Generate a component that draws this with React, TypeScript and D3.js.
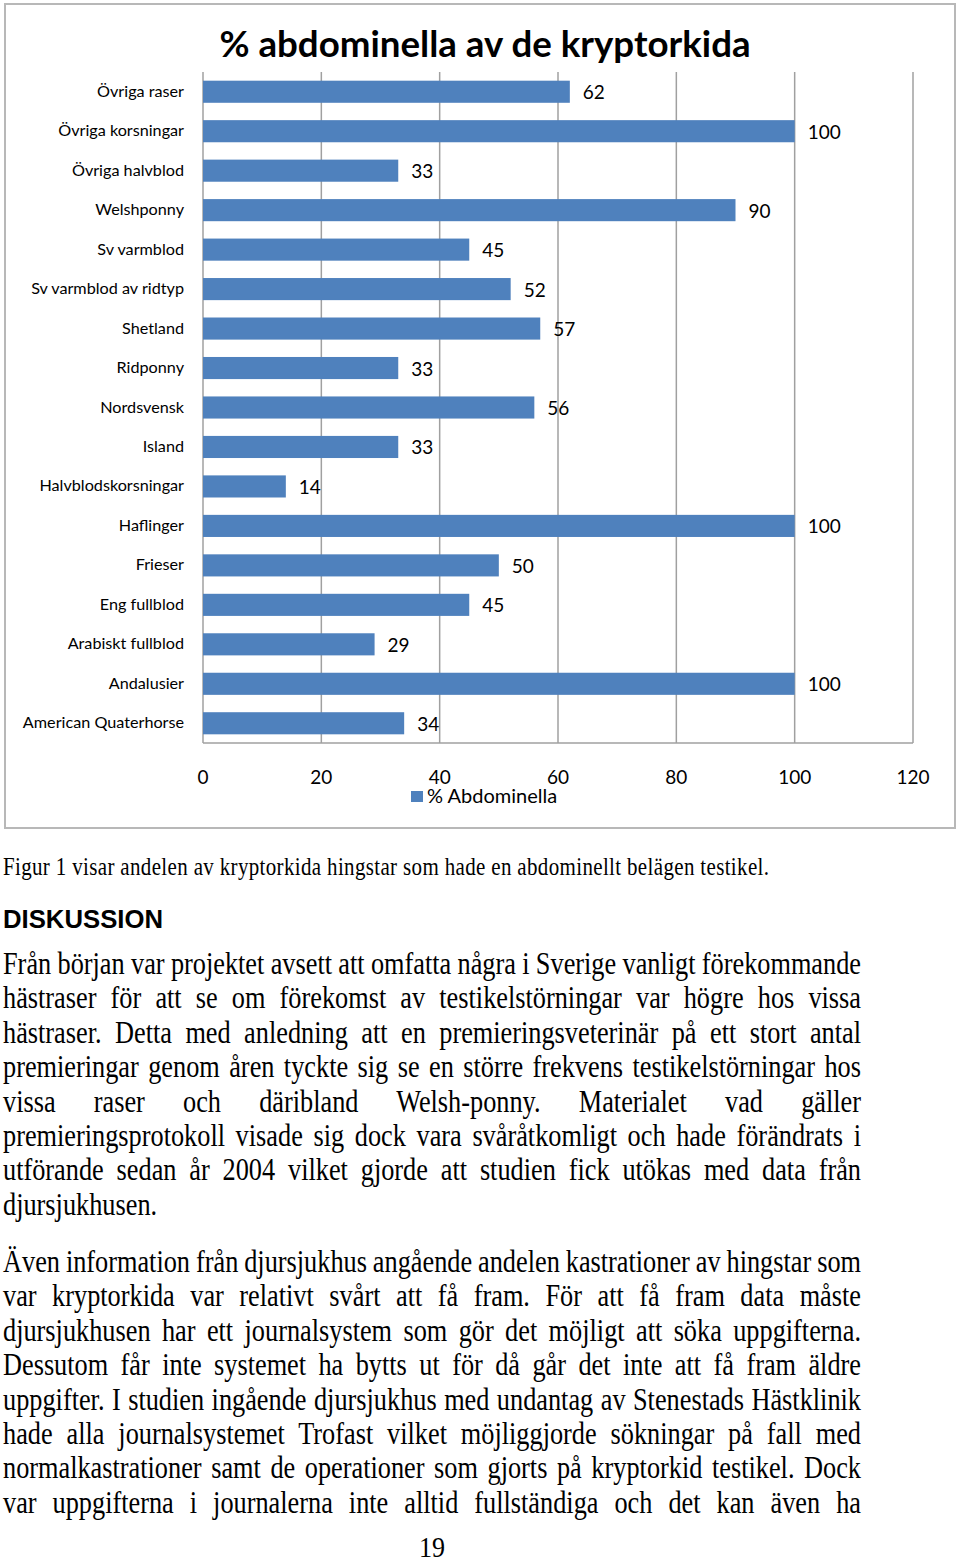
import { useEffect, useRef } from 'react';
import * as d3 from 'd3';

const breeds = [
  'Övriga raser', 'Övriga korsningar', 'Övriga halvblod', 'Welshponny', 'Sv varmblod',
  'Sv varmblod av ridtyp', 'Shetland', 'Ridponny', 'Nordsvensk', 'Island',
  'Halvblodskorsningar', 'Haflinger', 'Frieser', 'Eng fullblod', 'Arabiskt fullblod',
  'Andalusier', 'American Quaterhorse',
];
const abdominalPct = [62, 100, 33, 90, 45, 52, 57, 33, 56, 33, 14, 100, 50, 45, 29, 100, 34];
const xTicks = [0, 20, 40, 60, 80, 100, 120];

const chartTitle = '% abdominella av de kryptorkida';
const legendLabel = '% Abdominella';
const caption = 'Figur 1 visar andelen av kryptorkida hingstar som hade en abdominellt belägen testikel.';
const heading = 'DISKUSSION';
const para1 = [
  'Från början var projektet avsett att omfatta några i Sverige vanligt förekommande',
  'hästraser för att se om förekomst av testikelstörningar var högre hos vissa',
  'hästraser. Detta med anledning att en premieringsveterinär på ett stort antal',
  'premieringar genom åren tyckte sig se en större frekvens testikelstörningar hos',
  'vissa raser och däribland Welsh-ponny. Materialet vad gäller',
  'premieringsprotokoll visade sig dock vara svåråtkomligt och hade förändrats i',
  'utförande sedan år 2004 vilket gjorde att studien fick utökas med data från',
  'djursjukhusen.',
];
const para2 = [
  'Även information från djursjukhus angående andelen kastrationer av hingstar som',
  'var kryptorkida var relativt svårt att få fram. För att få fram data måste',
  'djursjukhusen har ett journalsystem som gör det möjligt att söka uppgifterna.',
  'Dessutom får inte systemet ha bytts ut för då går det inte att få fram äldre',
  'uppgifter. I studien ingående djursjukhus med undantag av Stenestads Hästklinik',
  'hade alla journalsystemet Trofast vilket möjliggjorde sökningar på fall med',
  'normalkastrationer samt de operationer som gjorts på kryptorkid testikel. Dock',
  'var uppgifterna i journalerna inte alltid fullständiga och det kan även ha',
];
const pageNo = '19';

const W = 960;
const H = 1563;
const BAR = '#4f81bd';
const GRID = '#a0a0a0';
const chartFont = 'Lato, "Open Sans", sans-serif';
const serif = '"Liberation Serif", "Times New Roman", serif';

const x = d3.scaleLinear().domain([0, 120]).range([203, 913]);
const y = d3.scaleBand().domain(breeds).range([72, 743]).paddingInner(0.44).paddingOuter(0.22);

const textLeft = 3;
const textRight = 861;
const lineH = 34.4;
const bodySize = 26.3;
const bodyScale = 1.22;

export default function App() {
  const svgRef = useRef<SVGSVGElement>(null);

  useEffect(() => {
    if (!svgRef.current) return;
    const svg = d3.select(svgRef.current);
    // spread words so the justified lines reach the right margin
    svg.selectAll<SVGTextElement, unknown>('text.just').each(function () {
      this.setAttribute('word-spacing', '0');
      const len = this.getComputedTextLength();
      const gaps = (this.textContent ?? '').split(' ').length - 1;
      if (gaps > 0) {
        this.setAttribute('word-spacing', String((textRight - textLeft - len) / gaps));
      }
    });
  }, []);

  const bodyLine = (s: string, baseline: number, justify: boolean, key: string) => (
    <text
      key={key}
      className={justify ? 'just' : undefined}
      transform={`translate(${textLeft},${baseline}) scale(1,${bodyScale})`}
      fontFamily={serif}
      fontSize={bodySize}
      fill="#000"
    >
      {s}
    </text>
  );

  return (
    <svg
      ref={svgRef}
      width={W}
      height={H}
      style={{ position: 'absolute', left: 0, top: 0, background: '#fff' }}
    >
      <rect x={0} y={0} width={W} height={H} fill="#fff" />
      <rect x={5} y={4} width={950} height={824} fill="#fff" stroke="#b8b8b8" strokeWidth={2} />

      <text x={485} y={57} textAnchor="middle" fontFamily={chartFont} fontWeight="bold" fontSize={36.7} fill="#000">
        {chartTitle}
      </text>

      {/* gridlines */}
      {xTicks.slice(1).map((t) => (
        <line key={t} x1={x(t)} x2={x(t)} y1={72} y2={743} stroke={GRID} strokeWidth={1.5} />
      ))}
      <line x1={x(0)} x2={x(0)} y1={72} y2={743} stroke={GRID} strokeWidth={1.5} />
      <line x1={x(0)} x2={x(120)} y1={743} y2={743} stroke={GRID} strokeWidth={1.5} />

      {/* bars */}
      {breeds.map((b, i) => (
        <g key={b}>
          <rect x={x(0)} y={y(b)!} width={x(abdominalPct[i]) - x(0)} height={y.bandwidth()} fill={BAR} />
          <text
            x={x(abdominalPct[i]) + 13}
            y={y(b)! + y.bandwidth() / 2 + 7.5}
            fontFamily={chartFont}
            fontSize={19}
            fill="#000"
          >
            {abdominalPct[i]}
          </text>
          <text
            x={184}
            y={y(b)! + y.bandwidth() / 2 + 5}
            textAnchor="end"
            fontFamily={chartFont}
            fontSize={16.2}
            fill="#000"
          >
            {b}
          </text>
        </g>
      ))}

      {/* x tick labels */}
      {xTicks.map((t) => (
        <text key={t} x={x(t)} y={784} textAnchor="middle" fontFamily={chartFont} fontSize={19} fill="#000">
          {t}
        </text>
      ))}

      {/* legend */}
      <rect x={411} y={791} width={12} height={11} fill={BAR} />
      <text x={427} y={802.5} fontFamily={chartFont} fontSize={20} fill="#000">
        {legendLabel}
      </text>

      {/* page text */}
      <text
        transform={`translate(${textLeft},875) scale(1,1.15)`}
        fontFamily={serif}
        fontSize={21}
        textLength={766}
        lengthAdjust="spacing"
        fill="#000"
      >
        {caption}
      </text>
      <text x={3} y={928} fontFamily='"Liberation Sans", Arial, sans-serif' fontWeight="bold" fontSize={25} textLength={160} lengthAdjust="spacingAndGlyphs" fill="#000">
        {heading}
      </text>

      {para1.map((s, i) => bodyLine(s, 974 + i * lineH, i < para1.length - 1, `p1-${i}`))}
      {para2.map((s, i) => bodyLine(s, 1272 + i * lineH, true, `p2-${i}`))}

      <text
        transform={`translate(432,1556.5) scale(1,1.1)`}
        textAnchor="middle"
        fontFamily={serif}
        fontSize={26}
        fill="#000"
      >
        {pageNo}
      </text>
    </svg>
  );
}
